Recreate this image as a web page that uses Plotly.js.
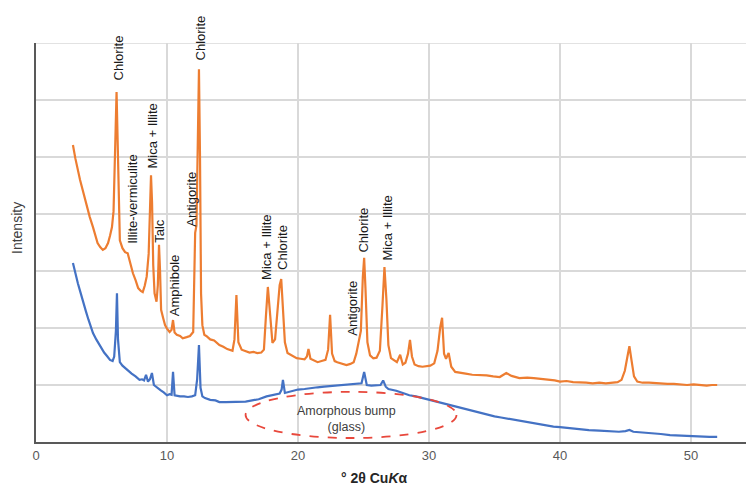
<!DOCTYPE html>
<html>
<head>
<meta charset="utf-8">
<script src="https://cdn.plot.ly/plotly-3.0.1.min.js"></script>
<style>html,body{margin:0;padding:0;background:#fff;}#chart{width:746px;height:489px;}</style>
</head>
<body>
<div id="chart"></div>
<script>
// ---- data (2θ, relative intensity) ----
const xOrange = [2.82,3.0,3.36,3.6,3.9,4.1,4.35,4.55,4.7,4.9,
 5.1,5.3,5.5,5.65,5.8,5.92,6.0,6.08,6.15,6.22,
 6.3,6.4,6.6,6.8,7.0,7.2,7.4,7.6,7.8,8.0,
 8.15,8.3,8.45,8.6,8.7,8.78,8.86,8.95,9.05,9.2,
 9.3,9.39,9.47,9.55,9.7,9.85,10.0,10.2,10.35,10.46,
 10.58,10.75,11.0,11.2,11.5,11.75,12.0,12.08,12.15,12.25,
 12.35,12.44,12.52,12.6,12.7,12.85,13.0,13.3,13.6,14.0,
 14.3,14.6,15.0,15.15,15.3,15.45,15.7,16.0,16.3,16.6,
 16.9,17.2,17.4,17.55,17.7,17.85,18.05,18.25,18.45,18.6,
 18.72,18.85,19.0,19.2,19.5,19.9,20.2,20.5,20.68,20.8,
 20.95,21.2,21.5,21.8,22.1,22.3,22.45,22.6,22.8,23.0,
 23.3,23.7,24.0,24.25,24.45,24.6,24.8,24.95,25.05,25.15,
 25.3,25.5,25.75,26.0,26.25,26.45,26.6,26.75,26.9,27.1,
 27.3,27.55,27.8,28.0,28.2,28.4,28.55,28.7,28.9,29.2,
 29.5,29.8,30.1,30.4,30.65,30.85,31.0,31.15,31.3,31.5,
 31.7,32.0,32.4,32.8,33.3,33.9,34.4,34.9,35.4,35.9,
 36.3,36.9,37.5,38.0,38.5,39.0,39.6,40.0,40.5,41.0,
 41.5,42.0,42.5,43.0,43.5,44.0,44.4,44.7,44.95,45.15,
 45.3,45.45,45.65,45.9,46.3,46.8,47.3,47.8,48.2,48.7,
 49.2,49.7,50.2,50.7,51.2,51.6,52.0];
const yOrange = [5.21,4.98,4.6,4.38,4.12,3.95,3.77,3.62,3.49,3.42,
 3.37,3.40,3.49,3.62,3.77,4.05,4.6,5.5,6.14,5.4,
 4.1,3.54,3.40,3.33,3.31,3.12,2.96,2.84,2.70,2.65,
 2.63,2.74,2.90,3.3,4.1,4.68,4.2,3.1,2.61,2.46,
 2.75,3.46,3.0,2.32,2.18,2.05,1.99,1.93,1.97,2.14,
 1.92,1.88,1.86,1.82,1.84,1.86,1.93,3.0,3.67,3.8,
 5.5,6.54,5.0,2.6,2.05,1.88,1.86,1.80,1.78,1.70,
 1.67,1.63,1.60,1.80,2.58,1.75,1.62,1.60,1.57,1.58,
 1.56,1.57,1.62,2.2,2.72,2.3,1.74,1.80,2.3,2.75,
 2.86,2.3,1.75,1.56,1.52,1.47,1.46,1.45,1.50,1.63,
 1.46,1.43,1.40,1.42,1.44,1.62,2.23,1.55,1.42,1.40,
 1.38,1.35,1.37,1.40,1.55,1.74,1.95,2.9,3.23,2.7,
 1.75,1.52,1.47,1.48,1.60,2.4,3.07,2.5,1.70,1.47,
 1.44,1.40,1.53,1.36,1.39,1.55,1.79,1.50,1.36,1.33,
 1.32,1.33,1.34,1.38,1.60,2.0,2.18,1.55,1.46,1.56,
 1.32,1.23,1.22,1.20,1.18,1.18,1.17,1.15,1.14,1.21,
 1.16,1.12,1.13,1.12,1.11,1.10,1.08,1.06,1.07,1.05,
 1.05,1.04,1.03,1.04,1.03,1.04,1.05,1.09,1.25,1.50,
 1.68,1.45,1.15,1.06,1.04,1.04,1.03,1.03,1.02,1.02,
 1.01,1.00,1.01,1.00,0.99,1.00,1.00];

const xBlue = [2.82,3.0,3.2,3.4,3.6,3.8,4.0,4.2,4.35,4.6,
 4.8,5.0,5.2,5.45,5.65,5.85,5.97,6.1,6.18,6.26,
 6.4,6.6,6.8,7.05,7.3,7.6,7.9,8.1,8.25,8.4,
 8.55,8.7,8.85,9.0,9.25,9.5,9.75,10.0,10.2,10.35,
 10.46,10.58,10.8,11.0,11.3,11.6,11.9,12.15,12.3,12.44,
 12.56,12.7,12.9,13.3,13.7,14.0,14.5,15.0,15.5,16.0,
 16.5,17.0,17.6,18.2,18.6,18.75,18.85,19.0,19.5,20.0,
 20.5,21.0,21.5,22.0,22.5,23.0,23.5,24.0,24.5,24.85,
 25.05,25.25,25.6,26.0,26.3,26.5,26.7,26.9,27.5,28.0,
 28.5,29.0,29.5,30.0,30.5,31.0,31.5,32.0,32.5,33.0,
 33.5,34.0,34.5,35.0,35.5,36.0,36.5,37.0,37.5,38.0,
 38.5,39.0,39.5,40.0,40.7,41.5,42.2,43.0,43.7,44.5,
 45.0,45.3,45.6,46.2,47.0,47.7,48.4,49.2,50.0,50.7,
 51.4,52.0];
const yBlue = [3.14,2.95,2.78,2.62,2.44,2.30,2.15,2.02,1.91,1.80,
 1.72,1.64,1.57,1.50,1.44,1.42,1.50,1.95,2.61,1.80,
 1.40,1.34,1.30,1.24,1.20,1.15,1.09,1.10,1.08,1.18,
 1.06,1.10,1.21,1.00,0.95,0.91,0.87,0.82,0.84,0.83,
 1.23,0.82,0.81,0.80,0.80,0.79,0.80,0.82,1.10,1.70,
 0.95,0.80,0.77,0.74,0.73,0.70,0.70,0.70,0.71,0.71,
 0.73,0.75,0.80,0.83,0.85,0.92,1.09,0.86,0.89,0.92,
 0.93,0.95,0.96,0.97,0.98,0.99,1.00,1.00,1.01,1.03,
 1.23,1.00,0.99,0.99,1.00,1.08,0.97,0.93,0.90,0.86,
 0.82,0.80,0.77,0.75,0.72,0.69,0.66,0.63,0.60,0.57,
 0.53,0.51,0.48,0.45,0.43,0.41,0.38,0.36,0.34,0.32,
 0.30,0.29,0.27,0.26,0.24,0.23,0.21,0.20,0.19,0.18,
 0.19,0.21,0.18,0.17,0.15,0.14,0.12,0.11,0.10,0.10,
 0.09,0.09];

// phase labels: text, 2θ position
const labelText = ["Chlorite","Illite-vermiculite","Mica + Illite","Talc","Amphibole","Antigorite","Chlorite","Mica + Illite","Chlorite","Antigorite","Chlorite","Mica + Illite"];
const label2Theta = [6.26,7.4,8.93,9.47,10.53,11.9,12.52,17.6,18.8,24.2,25.04,26.8];
const labelBase = [6.30,3.44,4.77,3.46,2.18,3.75,6.65,2.81,2.98,1.82,3.28,3.14];

const xTicks = [0,10,20,30,40,50];

const annotations = labelText.map((t,i)=>({
  x: label2Theta[i], y: labelBase[i], xref:'x', yref:'y',
  text: t, showarrow:false, textangle:-90,
  xanchor:'center', yanchor:'bottom',
  font:{family:'Liberation Sans, Arial, sans-serif', size:13, color:'#1a1a1a'}
}));
annotations.push({
  x: 23.7, y: 0.40, xref:'x', yref:'y', showarrow:false,
  text:'Amorphous bump<br>(glass)', align:'center',
  font:{family:'Liberation Sans, Arial, sans-serif', size:12.5, color:'#404040'}
});
annotations.push({
  x: (374-36)/710, y: 0, xref:'paper', yref:'paper', yshift:-36, showarrow:false,
  text:'° 2θ Cu<i>K</i>α', yanchor:'middle',
  font:{family:'Liberation Sans, Arial, sans-serif', size:14, color:'#262626', weight:'bold'}
});
annotations.push({
  x: 0, y: (442-228)/399, xref:'paper', yref:'paper', xshift:-19, showarrow:false,
  text:'Intensity', textangle:-90, xanchor:'center', yanchor:'middle',
  font:{family:'Liberation Sans, Arial, sans-serif', size:14, color:'#404040'}
});

const traces = [
  {x:xOrange, y:yOrange, type:'scatter', mode:'lines', line:{color:'#ED7D31', width:2.2}, hoverinfo:'skip', cliponaxis:false},
  {x:xBlue, y:yBlue, type:'scatter', mode:'lines', line:{color:'#4472C4', width:2.2}, hoverinfo:'skip'}
];

const layout = {
  width:746, height:489,
  margin:{l:36, r:0, t:43, b:47},
  paper_bgcolor:'#fff', plot_bgcolor:'#fff',
  showlegend:false,
  xaxis:{range:[0,54.2], tickvals:xTicks, ticktext:xTicks.map(String), showgrid:true, gridcolor:'#d9d9d9', gridwidth:1.5,
    zeroline:false, showline:true, linecolor:'#595959', linewidth:2, ticks:'',
    tickfont:{family:'Liberation Sans, Arial, sans-serif', size:13, color:'#595959'}},
  yaxis:{range:[0,7], dtick:1, showticklabels:false, showgrid:true, gridcolor:'#d9d9d9', gridwidth:1.5,
    zeroline:false, showline:true, linecolor:'#595959', linewidth:2, ticks:''},
  shapes:[
    {type:'line', xref:'paper', yref:'y', x0:0, x1:1, y0:7, y1:7, line:{color:'#d9d9d9', width:1.5}, layer:'below'},
    {type:'circle', xref:'x', yref:'y', x0:16.0, x1:32.1, y0:0.07, y1:0.88,
    line:{color:'#E8483C', width:1.8, dash:'dash'}, fillcolor:'rgba(0,0,0,0)'}],
  annotations: annotations
};

Plotly.newPlot('chart', traces, layout, {displayModeBar:false, staticPlot:true});
</script>
</body>
</html>
